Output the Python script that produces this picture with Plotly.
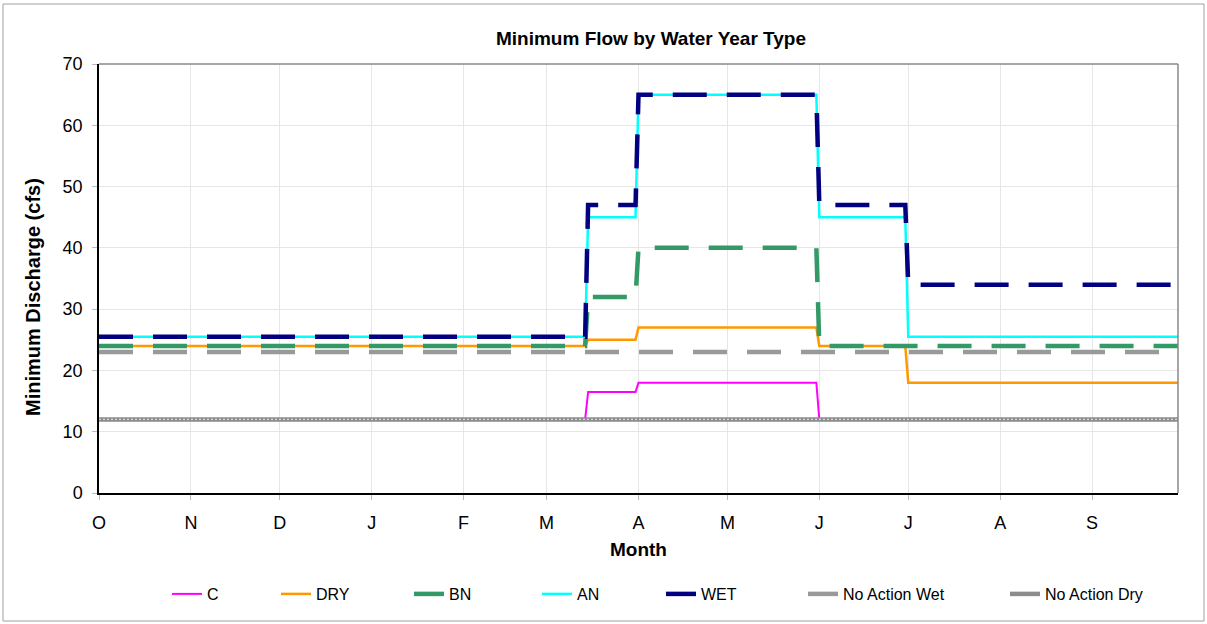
import plotly.graph_objects as go

# Breakpoint dates (daily water-year data, Oct 1 - Sep 30)
dates = ["2006-10-01", "2007-03-14", "2007-03-15", "2007-03-31", "2007-04-01",
         "2007-05-31", "2007-06-01", "2007-06-30", "2007-07-01", "2007-09-30"]
C_vals = [12, 12, 16.5, 16.5, 18, 18, 12, 12, 12, 12]
DRY_vals = [24, 24, 25, 25, 27, 27, 24, 24, 18, 18]
BN_vals = [24, 24, 32, 32, 40, 40, 24, 24, 24, 24]
AN_vals = [25.5, 25.5, 45, 45, 65, 65, 45, 45, 25.5, 25.5]
WET_vals = [25.5, 25.5, 47, 47, 65, 65, 47, 47, 34, 34]
NAW_vals = [23, 23, 23, 23, 23, 23, 23, 23, 23, 23]
NAD_vals = [12, 12, 12, 12, 12, 12, 12, 12, 12, 12]

series_names = ["C", "DRY", "BN", "AN", "WET", "No Action Wet", "No Action Dry"]

month_ticks = ["2006-10-01", "2006-11-01", "2006-12-01", "2007-01-01", "2007-02-01",
               "2007-03-01", "2007-04-01", "2007-05-01", "2007-06-01", "2007-07-01",
               "2007-08-01", "2007-09-01"]
month_labels = ["O", "N", "D", "J", "F", "M", "A", "M", "J", "J", "A", "S"]

FONT = "Arial, Liberation Sans, sans-serif"
W, H, L, R, T, B = 1207, 624, 99, 29, 64, 131
pw, ph = W - L - R, H - T - B

DASH = "34px,20px"
styles = [
    dict(color="#FF00FF", width=2),
    dict(color="#FF9900", width=2.5),
    dict(color="#339966", width=4.5, dash=DASH),
    dict(color="#00FFFF", width=2.5),
    dict(color="#000080", width=4.5, dash=DASH),
    dict(color="#999999", width=4.5, dash=DASH),
    dict(color="#8c8c8c", width=4.5),
]
values = [C_vals, DRY_vals, BN_vals, AN_vals, WET_vals, NAW_vals, NAD_vals]
legend_ids = ["legend", "legend2", "legend3", "legend4", "legend5", "legend6", "legend7"]
# legend text start positions (pixels) in the reference
legend_text_px = [207, 316, 449, 577, 701, 843, 1045]

fig = go.Figure()
for name, vals, st, lid in zip(series_names, values, styles, legend_ids):
    fig.add_trace(go.Scatter(x=dates, y=vals, name=name, mode="lines", line=st,
                             legend=lid))
# texture overlay for No Action Dry
fig.add_trace(go.Scatter(x=dates, y=NAD_vals, name="No Action Dry", mode="lines",
                         showlegend=False, hoverinfo="skip",
                         line=dict(color="#dcdcdc", width=1.2, dash="2px,2px")))

legend_layout = {}
for lid, tx in zip(legend_ids, legend_text_px):
    legend_layout[lid] = dict(
        x=(tx - 40 - L) / pw, xanchor="left",
        y=(H - B - 594) / ph, yanchor="middle",
        font=dict(size=16, family=FONT), bgcolor="rgba(0,0,0,0)", borderwidth=0,
    )

fig.update_layout(
    width=W, height=H,
    margin=dict(l=L, r=R, t=T, b=B),
    paper_bgcolor="white", plot_bgcolor="white",
    font=dict(family=FONT, size=16, color="black"),
    title=dict(text="<b>Minimum Flow by Water Year Type</b>", x=651 / W, xanchor="center",
               xref="container", yref="container",
               y=1 - 38 / H, yanchor="middle", font=dict(size=19, family=FONT)),
    xaxis=dict(
        type="date", range=["2006-10-01", "2007-09-30"],
        tickvals=month_ticks, ticktext=month_labels,
        showgrid=True, gridcolor="#e6e6e6", gridwidth=1,
        showline=True, linecolor="black", linewidth=1.5,
        ticks="outside", ticklen=5, tickcolor="#bbbbbb",
        tickfont=dict(size=18), zeroline=False, ticklabelstandoff=8,
        title=dict(text="<b>Month</b>", font=dict(size=19), standoff=10),
    ),
    yaxis=dict(
        range=[0, 70], dtick=10, tick0=0,
        showgrid=True, gridcolor="#e6e6e6", gridwidth=1,
        showline=True, linecolor="black", linewidth=1.5,
        ticks="outside", ticklen=5, tickcolor="#bbbbbb",
        tickfont=dict(size=18), zeroline=False, ticklabelstandoff=6,
    ),
    showlegend=True,
    **legend_layout,
)

# y-axis title (placed as in the reference, slightly below axis centre)
fig.add_annotation(text="<b>Minimum Discharge (cfs)</b>", textangle=-90,
                   xref="paper", yref="paper",
                   x=(33 - L) / pw, y=(H - B - 297) / ph,
                   xanchor="center", yanchor="middle", showarrow=False,
                   font=dict(size=20, family=FONT, color="black"))

# top and right plot-area border (gray)
fig.add_shape(type="line", xref="paper", yref="paper", x0=0, x1=1, y0=1, y1=1,
              line=dict(color="#888888", width=1.5))
fig.add_shape(type="line", xref="paper", yref="paper", x0=1, x1=1, y0=0, y1=1,
              line=dict(color="#888888", width=1.5))
# outer chart border
fig.add_shape(type="rect", xref="paper", yref="paper",
              x0=(3 - L) / pw, x1=(1204 - L) / pw,
              y0=(H - 621 - B) / ph, y1=(H - 4 - B) / ph,
              line=dict(color="#a0a0a0", width=1), layer="below")

fig.write_html("out.html", config={"displayModeBar": False},
               post_script="document.body.style.margin='0px';")
